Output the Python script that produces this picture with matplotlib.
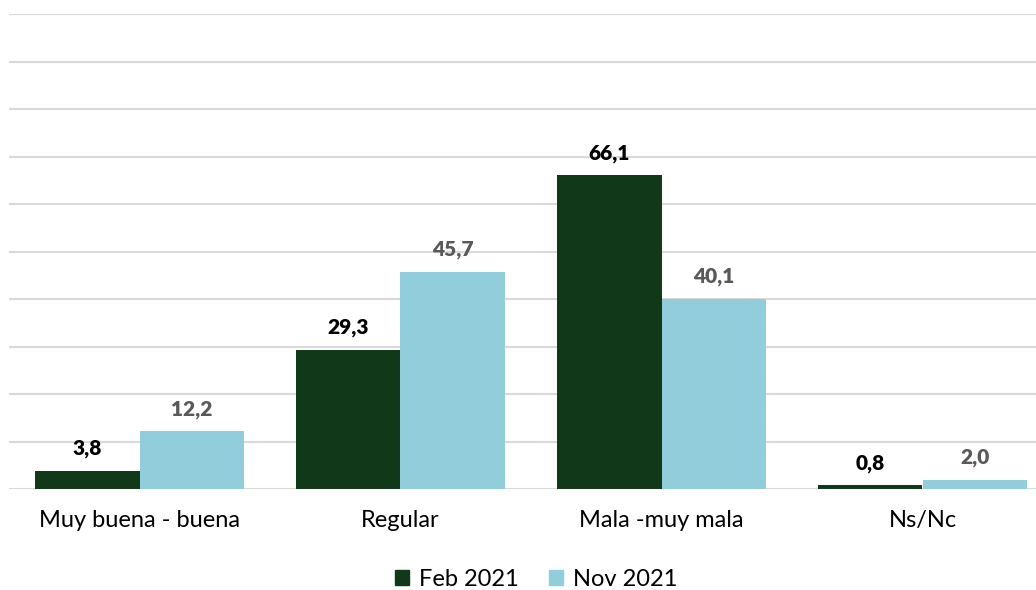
import numpy as np
from matplotlib import pyplot as plt
from matplotlib.patches import Patch

plt.rcParams['font.family'] = ['Lato', 'DejaVu Sans']

categories = ['Muy buena - buena', 'Regular', 'Mala -muy mala', 'Ns/Nc']
feb_2021 = [3.8, 29.3, 66.1, 0.8]
nov_2021 = [12.2, 45.7, 40.1, 2.0]
series_names = ['Feb 2021', 'Nov 2021']

c_feb = '#12381a'
c_nov = '#92cddc'

fig = plt.figure(figsize=(10.36, 5.9), dpi=100)
ax = fig.add_axes([9/1036, 101/590, 1044/1036, 475/590])

x = np.arange(len(categories))
w = 0.4
b1 = ax.bar(x - w/2, feb_2021, w, color=c_feb, zorder=3)
b2 = ax.bar(x + w/2, nov_2021, w, color=c_nov, zorder=3)

def fmt(v):
    return ('%.1f' % v).replace('.', ',')

for rect, v in zip(b1, feb_2021):
    ax.annotate(fmt(v), (rect.get_x() + rect.get_width()/2, v), xytext=(0, 9),
                textcoords='offset points', ha='center', va='bottom',
                fontsize=15, fontweight='heavy', color='black')
for rect, v in zip(b2, nov_2021):
    ax.annotate(fmt(v), (rect.get_x() + rect.get_width()/2, v), xytext=(0, 9),
                textcoords='offset points', ha='center', va='bottom',
                fontsize=15, fontweight='heavy', color='#595959')

ax.set_xlim(-0.5, 3.5)
ax.set_ylim(0, 100)
ax.set_yticks(np.arange(0, 101, 10))
ax.yaxis.grid(True, color='#d9d9d9', linewidth=1.5, zorder=0)
ax.tick_params(axis='y', left=False, labelleft=False)
ax.tick_params(axis='x', length=0, pad=15, labelsize=17)
ax.set_xticks(x)
ax.set_xticklabels(categories)
for s in ax.spines.values():
    s.set_visible(False)

handles = [Patch(color=c_feb), Patch(color=c_nov)]
fig.legend(handles, series_names, loc='center', bbox_to_anchor=(536/1036, 1 - 579/590),
           ncol=2, frameon=False, fontsize=17, handlelength=0.6, handleheight=0.6,
           handletextpad=0.4, columnspacing=1.3)

fig.savefig('out.png', dpi=100)
